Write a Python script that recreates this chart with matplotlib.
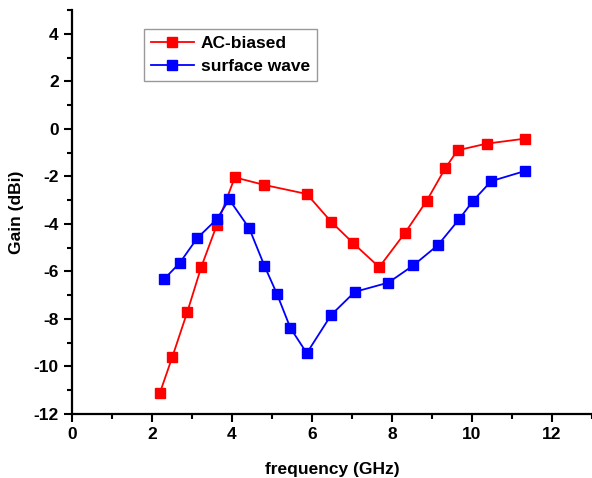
import matplotlib
matplotlib.use('Agg')
import matplotlib.pyplot as plt
from matplotlib.ticker import MultipleLocator

# data
f_ac = [2.20, 2.51, 2.88, 3.23, 3.62, 4.07, 4.81, 5.87, 6.48, 7.03, 7.68, 8.32, 8.87, 9.33, 9.64, 10.37, 11.33]
g_ac = [-11.1, -9.59, -7.72, -5.82, -4.05, -2.04, -2.36, -2.74, -3.91, -4.81, -5.82, -4.39, -3.02, -1.66, -0.90, -0.62, -0.41]

f_sw = [2.31, 2.69, 3.13, 3.62, 3.93, 4.43, 4.81, 5.12, 5.46, 5.87, 6.48, 7.07, 7.91, 8.53, 9.15, 9.68, 10.03, 10.48, 11.33]
g_sw = [-6.31, -5.65, -4.60, -3.80, -2.97, -4.18, -5.76, -6.93, -8.38, -9.44, -7.83, -6.86, -6.47, -5.75, -4.89, -3.80, -3.02, -2.20, -1.77]

plt.rcParams['font.family'] = ['Liberation Sans', 'DejaVu Sans']
plt.rcParams['font.weight'] = 'bold'
plt.rcParams['axes.unicode_minus'] = False

fig = plt.figure(figsize=(5.92, 4.78), dpi=100)
ax = fig.add_axes([0.1216, 0.1339, 0.8784, 0.845])

ax.plot(f_ac, g_ac, color='#ff0000', marker='s', markersize=7.5, linewidth=1.3, label='AC-biased')
ax.plot(f_sw, g_sw, color='#0000ff', marker='s', markersize=7.5, linewidth=1.3, label='surface wave')

ax.set_xlim(0, 13)
ax.set_ylim(-12, 5)
ax.xaxis.set_minor_locator(MultipleLocator(1))
ax.yaxis.set_minor_locator(MultipleLocator(1))
ax.set_xticks([0, 2, 4, 6, 8, 10, 12])
ax.set_yticks([-12, -10, -8, -6, -4, -2, 0, 2, 4])

for s in ['top', 'right']:
    ax.spines[s].set_visible(False)
for s in ['left', 'bottom']:
    ax.spines[s].set_linewidth(1.6)

ax.tick_params(which='major', direction='out', length=6, width=1.5, labelsize=12.5)
ax.tick_params(which='minor', direction='out', length=3.5, width=1.5)
for lab in ax.get_xticklabels() + ax.get_yticklabels():
    lab.set_fontweight('bold')

ax.set_xlabel('frequency (GHz)', fontsize=12.5, fontweight='bold', labelpad=14)
ax.set_ylabel('Gain (dBi)', fontsize=12.5, fontweight='bold', labelpad=7)

leg = ax.legend(loc='upper left', bbox_to_anchor=(0.138, 0.954), borderaxespad=0,
                fancybox=False, edgecolor='#808080', fontsize=12.5, handlelength=2.5,
                borderpad=0.4, labelspacing=0.45, handletextpad=0.4)
leg.get_frame().set_linewidth(1.0)

fig.savefig('out.png', dpi=100)
